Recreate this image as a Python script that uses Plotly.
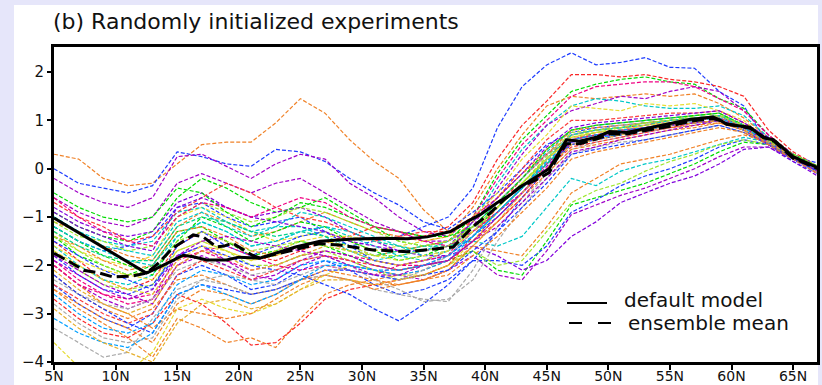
import plotly.graph_objects as go

# ---------------- data ----------------
lat_knots = [5, 7, 9, 11, 13, 15, 17, 19, 21, 23, 25, 27, 29, 31, 33, 35,
             37, 39, 41, 43, 45, 47, 49, 51, 53, 55, 57, 59, 61, 63, 65, 67]

ensemble_members = [
    [0.3,0.2,-0.2,-0.35,-0.3,0.1,0.5,0.55,0.55,0.95,1.45,1.15,0.6,0.15,-0.2,-0.85,-1.3,-1.1,-0.6,-0.1,0.4,0.8,0.9,0.95,1.0,1.05,1.1,1.15,0.9,0.6,0.3,0.05],
    [0.0,-0.3,-0.4,-0.5,-0.35,0.35,0.25,0.1,0.05,0.4,0.35,0.15,-0.2,-0.5,-0.75,-1.1,-1.25,-0.9,-0.5,0.0,0.5,0.75,0.85,0.9,0.95,1.0,1.05,1.1,0.85,0.55,0.25,0.0],
    [-0.2,-0.5,-0.7,-0.8,-0.6,0.25,0.3,0.05,-0.2,0.1,0.3,0.2,-0.3,-0.6,-1.0,-1.3,-1.4,-1.0,-0.7,-0.2,0.3,0.6,0.75,0.8,0.85,0.9,0.95,1.0,0.8,0.5,0.25,-0.05],
    [-1.2,-1.5,-1.7,-1.6,-1.4,-0.8,-0.7,-1.0,-1.2,-1.1,-1.0,-1.3,-1.6,-1.5,-1.4,-1.2,-1.0,-0.4,0.85,1.7,2.15,2.4,2.15,2.2,2.3,2.1,2.08,1.6,1.3,0.5,0.25,0.12],
    [-1.5,-1.9,-2.3,-2.5,-2.3,-1.6,-1.3,-1.5,-1.8,-1.9,-1.7,-1.5,-1.4,-1.2,-1.3,-1.4,-1.2,-0.7,0.2,0.9,1.4,1.95,1.95,1.9,1.95,1.85,1.8,1.7,1.5,0.8,0.35,0.05],
    [-0.9,-1.2,-1.4,-1.5,-1.3,-0.6,-0.2,-0.4,-0.7,-0.9,-0.8,-0.6,-0.9,-1.2,-1.5,-1.6,-1.5,-1.0,-0.1,0.6,1.1,1.6,1.75,1.85,1.9,1.8,1.75,1.45,1.25,0.7,0.3,0.0],
    [-1.1,-1.3,-1.6,-1.8,-1.9,-1.2,-0.9,-1.1,-1.4,-1.3,-1.1,-0.9,-1.1,-1.3,-1.4,-1.5,-1.4,-0.8,0.0,0.7,1.3,1.5,1.45,1.5,1.55,1.5,1.55,1.35,1.05,0.65,0.3,0.05],
    [-1.6,-2.0,-2.3,-2.4,-2.2,-1.4,-1.1,-1.3,-1.6,-1.5,-1.3,-1.2,-1.4,-1.6,-1.8,-1.9,-1.7,-1.1,-0.3,0.4,0.9,1.3,1.45,1.4,1.3,1.25,1.25,1.3,1.1,0.65,0.3,0.05],
    [-0.6,-0.9,-1.1,-1.2,-1.0,-0.3,-0.1,-0.3,-0.5,-0.3,-0.2,-0.5,-0.8,-1.1,-1.3,-1.5,-1.5,-1.2,-0.4,0.3,0.9,1.2,1.35,1.5,1.45,1.6,1.7,1.6,1.2,0.7,0.25,-0.05],
    [-1.9,-2.3,-2.6,-2.8,-2.7,-2.0,-1.7,-1.9,-2.1,-2.0,-1.8,-1.7,-1.8,-1.9,-2.0,-2.0,-1.8,-1.0,-0.2,0.5,1.0,1.5,1.7,1.75,1.8,1.8,1.7,1.45,1.2,0.7,0.3,0.0],
    [-1.3,-1.7,-1.9,-2.0,-1.8,-1.0,-0.8,-1.0,-1.3,-1.5,-1.4,-1.3,-1.5,-1.7,-1.6,-1.5,-1.4,-1.0,-0.5,0.2,0.7,1.3,1.25,1.2,1.35,1.3,1.35,1.2,1.0,0.6,0.25,0.0],
    [-2.0,-2.4,-2.7,-2.9,-2.7,-1.8,-1.6,-1.9,-2.2,-2.3,-2.0,-1.8,-1.9,-2.1,-2.2,-2.3,-2.1,-1.8,-2.2,-2.3,-1.7,-0.95,-0.75,-0.55,-0.4,-0.2,0.0,0.25,0.45,0.45,0.2,-0.1],
    [-1.4,-1.8,-2.0,-2.2,-2.0,-1.3,-1.2,-1.5,-1.8,-1.7,-1.5,-1.6,-1.8,-2.0,-2.1,-2.0,-1.9,-1.7,-2.1,-2.2,-1.5,-0.75,-0.6,-0.45,-0.3,-0.1,0.1,0.35,0.55,0.5,0.2,-0.05],
    [-2.4,-2.8,-3.1,-3.3,-3.0,-2.2,-2.0,-2.2,-2.5,-2.4,-2.1,-1.9,-2.1,-2.4,-2.6,-2.5,-2.3,-1.9,-1.9,-2.0,-1.6,-0.9,-0.65,-0.35,-0.15,0.0,0.2,0.45,0.6,0.5,0.15,-0.1],
    [-1.0,-1.3,-1.5,-1.6,-1.5,-0.9,-0.8,-1.1,-1.3,-1.2,-1.2,-1.4,-1.7,-1.9,-1.8,-1.7,-1.6,-1.5,-1.6,-1.4,-0.8,-0.2,-0.35,-0.05,0.1,0.2,0.35,0.5,0.65,0.55,0.2,0.0],
    [-2.2,-2.6,-2.9,-3.1,-2.9,-2.3,-2.2,-2.4,-2.6,-2.5,-2.3,-2.2,-2.3,-2.4,-2.4,-2.3,-2.1,-1.6,-1.7,-1.8,-1.2,-0.5,-0.2,0.1,0.2,0.3,0.45,0.6,0.7,0.55,0.25,0.0],
    [-1.7,-2.1,-2.4,-2.5,-2.4,-1.7,-1.5,-1.7,-2.0,-2.0,-1.8,-1.7,-1.9,-2.1,-2.3,-2.2,-2.0,-1.7,-2.0,-1.9,-1.3,-0.7,-0.45,-0.3,-0.05,0.15,0.3,0.5,0.6,0.5,0.2,-0.05],
    [-0.8,-1.1,-1.3,-1.4,-1.3,-0.7,-0.5,-0.8,-1.0,-0.9,-0.8,-1.0,-1.3,-1.5,-1.7,-1.8,-1.8,-1.6,-1.8,-2.1,-1.9,-1.4,-1.1,-0.7,-0.5,-0.3,-0.15,0.1,0.4,0.45,0.15,-0.15],
    [-3.3,-3.6,-3.9,-3.8,-3.1,-2.5,-2.3,-2.4,-2.6,-2.5,-2.3,-2.2,-2.3,-2.5,-2.6,-2.7,-2.75,-2.1,-1.2,-0.7,-0.1,0.4,0.55,0.65,0.75,0.85,0.9,1.0,0.85,0.55,0.25,0.0],
    [-3.6,-4.1,-4.3,-4.2,-3.8,-2.9,-2.7,-2.9,-3.0,-2.8,-2.5,-2.2,-2.0,-2.1,-2.2,-2.2,-2.0,-1.5,-0.9,-0.4,0.2,0.6,0.7,0.8,0.9,0.95,1.0,1.05,0.85,0.55,0.25,0.0],
    [-2.5,-2.9,-3.2,-3.5,-3.9,-3.1,-3.3,-3.6,-3.5,-3.7,-3.1,-2.6,-2.4,-2.3,-2.2,-2.1,-1.9,-1.5,-1.0,-0.5,0.1,0.5,0.6,0.7,0.8,0.85,0.9,0.95,0.8,0.5,0.2,-0.05],
    [-2.7,-3.1,-3.4,-3.5,-3.2,-2.6,-2.8,-3.2,-3.65,-3.6,-3.2,-2.7,-2.5,-2.4,-2.3,-2.2,-2.0,-1.4,-0.8,-0.2,0.3,0.7,0.8,0.85,0.9,1.0,1.05,1.1,0.9,0.6,0.3,0.05],
    [-2.0,-2.4,-2.8,-3.0,-3.3,-2.9,-3.0,-3.1,-3.0,-2.7,-2.4,-2.2,-2.3,-2.5,-2.4,-2.3,-2.1,-1.6,-1.1,-0.6,-0.1,0.4,0.5,0.6,0.7,0.8,0.85,0.95,0.8,0.5,0.2,-0.05],
    [-1.8,-2.2,-2.5,-2.6,-2.4,-1.8,-1.6,-1.8,-2.0,-2.1,-2.2,-2.4,-2.6,-2.9,-3.15,-2.8,-2.4,-1.9,-1.3,-0.6,0.0,0.5,0.6,0.7,0.8,0.9,1.0,1.05,0.85,0.55,0.25,0.0],
    [-2.3,-2.6,-2.8,-2.9,-2.7,-2.1,-1.9,-2.0,-2.2,-2.1,-1.9,-1.8,-2.0,-2.3,-2.5,-2.75,-2.7,-2.3,-1.5,-0.8,-0.2,0.3,0.45,0.55,0.6,0.7,0.8,0.9,0.75,0.5,0.2,-0.1],
    [-0.7,-1.0,-1.2,-1.5,-1.4,-0.9,-0.6,-0.3,-0.5,-0.8,-1.0,-1.1,-1.3,-1.5,-1.4,-1.3,-1.3,-1.0,-0.6,0.0,0.6,1.0,1.0,1.05,1.1,1.15,1.15,1.2,0.95,0.6,0.3,0.05],
    [-1.2,-1.5,-1.8,-2.0,-2.2,-1.5,-1.0,-1.2,-1.5,-1.3,-1.1,-1.2,-1.5,-1.7,-1.9,-1.8,-1.6,-1.3,-0.8,-0.3,0.2,0.7,0.8,0.85,0.95,1.0,1.05,1.1,0.9,0.55,0.25,0.0],
    [-1.5,-1.8,-2.1,-2.3,-2.5,-1.6,-1.3,-1.6,-1.8,-1.6,-1.4,-1.3,-1.6,-1.9,-2.0,-1.9,-1.8,-1.4,-1.0,-0.5,0.0,0.55,0.65,0.75,0.85,0.9,0.95,1.0,0.85,0.55,0.25,-0.05],
    [-1.0,-1.3,-1.6,-1.7,-1.8,-1.1,-0.9,-1.2,-1.4,-1.2,-0.9,-1.0,-1.2,-1.4,-1.6,-1.7,-1.5,-1.2,-0.7,-0.2,0.35,0.8,0.9,0.95,1.0,1.05,1.1,1.15,0.9,0.6,0.3,0.05],
    [-2.0,-2.4,-2.6,-2.7,-2.6,-1.9,-1.7,-1.6,-1.8,-2.0,-2.1,-2.0,-2.1,-2.2,-2.0,-1.9,-1.8,-1.3,-0.9,-0.4,0.1,0.6,0.7,0.8,0.85,0.95,1.0,1.05,0.85,0.55,0.25,0.0],
    [-1.6,-1.9,-2.1,-2.2,-2.3,-1.7,-1.5,-1.7,-1.9,-1.7,-1.5,-1.4,-1.4,-1.5,-1.6,-1.7,-1.6,-1.2,-0.8,-0.3,0.15,0.7,0.75,0.8,0.9,0.95,1.0,1.1,0.9,0.6,0.3,0.05],
    [-1.4,-1.6,-1.9,-2.1,-2.0,-1.3,-1.2,-1.4,-1.7,-1.8,-1.6,-1.5,-1.7,-1.8,-1.7,-1.6,-1.5,-1.1,-0.6,-0.1,0.3,0.8,0.85,0.9,0.95,1.0,1.05,1.1,0.85,0.55,0.25,0.0],
    [-1.8,-2.1,-2.4,-2.6,-2.8,-2.0,-1.8,-2.0,-2.3,-2.2,-1.9,-1.7,-1.8,-2.0,-2.1,-2.0,-1.9,-1.5,-1.2,-0.7,-0.2,0.35,0.45,0.6,0.7,0.8,0.9,1.0,0.8,0.5,0.2,-0.05],
    [-1.1,-1.4,-1.5,-1.7,-1.6,-1.0,-0.7,-0.9,-1.1,-1.0,-0.8,-0.9,-1.1,-1.3,-1.5,-1.6,-1.5,-1.2,-0.8,-0.3,0.2,0.65,0.75,0.85,0.95,1.0,1.1,1.15,0.9,0.6,0.3,0.05],
    [-2.6,-3.0,-3.3,-3.4,-3.2,-2.4,-2.1,-2.2,-2.4,-2.3,-2.0,-1.9,-2.0,-2.1,-2.2,-2.1,-1.9,-1.4,-0.9,-0.4,0.1,0.55,0.65,0.7,0.8,0.9,0.95,1.0,0.8,0.55,0.25,0.0],
    [-2.1,-2.5,-2.8,-3.0,-2.8,-2.0,-1.7,-1.8,-2.1,-2.0,-1.8,-1.6,-1.7,-1.9,-2.0,-1.9,-1.7,-1.3,-0.9,-0.4,0.2,0.65,0.7,0.75,0.85,0.95,1.0,1.05,0.85,0.55,0.25,0.0],
    [-1.3,-1.6,-1.8,-1.9,-1.9,-1.2,-1.0,-1.1,-1.3,-1.4,-1.3,-1.4,-1.6,-1.8,-1.7,-1.6,-1.6,-1.3,-0.9,-0.4,0.1,0.6,0.7,0.75,0.85,0.9,1.0,1.05,0.85,0.55,0.25,0.0],
    [-0.9,-1.2,-1.4,-1.6,-1.7,-0.8,-0.6,-0.8,-1.0,-1.1,-1.2,-1.3,-1.5,-1.6,-1.7,-1.7,-1.6,-1.1,-0.6,-0.1,0.45,0.85,0.95,1.0,1.05,1.1,1.15,1.2,0.95,0.65,0.3,0.05],
    [-2.8,-3.2,-3.5,-3.6,-3.5,-2.7,-2.3,-2.2,-2.3,-2.4,-2.2,-2.0,-2.1,-2.2,-2.3,-2.1,-1.8,-1.3,-0.7,-0.2,0.3,0.7,0.8,0.9,0.95,1.0,1.05,1.1,0.9,0.6,0.3,0.05],
    [-2.4,-2.7,-3.0,-3.2,-3.0,-2.2,-1.9,-2.1,-2.3,-2.1,-1.9,-1.8,-1.9,-2.0,-2.1,-2.0,-1.9,-1.5,-1.1,-0.6,0.0,0.45,0.55,0.65,0.75,0.85,0.95,1.0,0.8,0.55,0.25,0.0],
    [-0.5,-0.8,-1.0,-1.1,-1.0,-0.4,-0.5,-0.9,-1.2,-1.0,-0.7,-0.8,-1.0,-1.2,-1.3,-1.4,-1.4,-1.2,-0.7,-0.2,0.4,0.8,0.9,0.95,1.0,1.05,1.1,1.15,0.9,0.6,0.3,0.05],
    [-2.2,-2.6,-2.9,-3.2,-3.4,-2.6,-2.4,-2.5,-2.6,-2.5,-2.3,-2.1,-2.1,-2.2,-2.3,-2.2,-2.1,-1.7,-1.3,-0.8,-0.3,0.3,0.4,0.5,0.6,0.7,0.8,0.9,0.75,0.5,0.2,-0.05],
    [-1.2,-1.5,-1.7,-1.9,-2.0,-1.4,-1.1,-1.3,-1.6,-1.5,-1.3,-1.2,-1.3,-1.5,-1.6,-1.8,-1.7,-1.4,-0.9,-0.4,0.2,0.7,0.8,0.85,0.9,1.0,1.05,1.1,0.9,0.55,0.25,0.0],
    [-0.6,-1.0,-1.3,-1.5,-1.6,-1.0,-0.7,-0.8,-1.0,-0.8,-0.6,-0.7,-1.0,-1.2,-1.3,-1.5,-1.6,-1.3,-0.9,-0.5,0.0,0.6,0.7,0.8,0.85,0.95,1.0,1.05,0.85,0.55,0.25,0.0],
    [-1.7,-2.0,-2.3,-2.5,-2.6,-1.9,-1.6,-1.7,-1.9,-1.8,-1.6,-1.5,-1.6,-1.8,-1.9,-1.8,-1.7,-1.3,-0.8,-0.3,0.2,0.65,0.75,0.8,0.9,0.95,1.0,1.05,0.85,0.55,0.25,0.0],
    [-2.5,-2.8,-3.1,-3.3,-3.6,-2.8,-2.5,-2.6,-2.8,-2.6,-2.3,-2.1,-2.2,-2.3,-2.4,-2.3,-2.2,-1.8,-1.4,-0.9,-0.4,0.2,0.35,0.45,0.55,0.65,0.75,0.85,0.75,0.5,0.2,-0.1],
    [-1.9,-2.2,-2.5,-2.7,-2.5,-1.8,-1.5,-1.4,-1.5,-1.6,-1.7,-1.8,-2.0,-2.2,-2.2,-2.0,-1.9,-1.5,-1.0,-0.5,0.05,0.55,0.65,0.75,0.85,0.9,0.95,1.0,0.85,0.55,0.25,0.0],
    [-1.4,-1.7,-2.0,-2.2,-2.1,-1.5,-1.3,-1.5,-1.7,-1.6,-1.5,-1.6,-1.7,-1.8,-1.8,-1.7,-1.6,-1.2,-0.8,-0.3,0.25,0.75,0.8,0.85,0.95,1.0,1.05,1.1,0.9,0.6,0.3,0.05],
    [-3.1,-3.4,-3.6,-3.7,-3.4,-2.6,-2.4,-2.6,-2.8,-2.6,-2.3,-2.0,-2.0,-2.1,-2.1,-2.0,-1.8,-1.4,-0.9,-0.4,0.15,0.6,0.7,0.8,0.85,0.95,1.0,1.05,0.85,0.55,0.25,0.0],
    [-2.9,-3.3,-3.6,-3.8,-4.0,-3.2,-2.8,-2.7,-2.9,-2.8,-2.5,-2.3,-2.3,-2.4,-2.3,-2.2,-2.0,-1.6,-1.1,-0.5,0.0,0.5,0.6,0.7,0.8,0.9,0.95,1.0,0.8,0.55,0.25,0.0],
]

default_lat = [5, 12.5, 13.6, 15.5, 16.3, 17.4, 19, 20, 21.7, 23.3, 24.6, 26.6, 29,
               31.5, 33.7, 35.3, 37.2, 38.5, 39.6, 41, 42, 43, 44.2, 45.2, 45.8,
               46.6, 47.7, 49.1, 50.1, 51.5, 52.8, 55, 56.6, 58.5, 59.1, 59.6,
               61.5, 62.6, 63.4, 65, 67]
default_val = [-1.02, -2.16, -2.03, -1.79, -1.82, -1.89, -1.89, -1.83, -1.85, -1.72,
               -1.62, -1.5, -1.46, -1.44, -1.45, -1.41, -1.3, -1.1, -0.95, -0.7,
               -0.55, -0.35, -0.15, 0.0, 0.25, 0.6, 0.57, 0.66, 0.77, 0.75, 0.82,
               0.93, 1.02, 1.07, 1.0, 0.92, 0.86, 0.64, 0.6, 0.25, 0.02]

mean_lat = [5, 6.3, 7.4, 8.7, 9.8, 11.4, 12.5, 13.5, 14.6, 16.3, 17.1, 18.2, 18.8,
            19.5, 21.1, 21.7, 23.3, 25, 26.6, 28.2, 30.9, 33.7, 36.3, 37.4, 39,
            40.4, 41.5, 42.8, 44.2, 45.2, 45.8, 46.6, 47.7, 49.1, 50.1, 51.5,
            52.8, 55, 56.6, 58.5, 59.1, 59.6, 61.5, 62.6, 63.4, 65, 67]
mean_val = [-1.75, -1.93, -2.1, -2.16, -2.24, -2.22, -2.16, -1.95, -1.65, -1.37,
            -1.41, -1.62, -1.6, -1.54, -1.79, -1.85, -1.75, -1.64, -1.55, -1.58,
            -1.68, -1.72, -1.65, -1.62, -1.2, -0.92, -0.65, -0.38, -0.22, -0.08,
            0.2, 0.52, 0.52, 0.62, 0.72, 0.72, 0.78, 0.88, 0.98, 1.04, 1.0, 0.93,
            0.84, 0.66, 0.58, 0.22, 0.0]

x_tick_vals = [5, 10, 15, 20, 25, 30, 35, 40, 45, 50, 55, 60, 65]
x_tick_text = ["5N", "10N", "15N", "20N", "25N", "30N", "35N", "40N", "45N",
               "50N", "55N", "60N", "65N"]
y_tick_vals = [-4, -3, -2, -1, 0, 1, 2]

title_text = "(b) Randomly initialized experiments"
legend_labels = ["default model", "ensemble mean"]

# ---------------- styles ----------------
palette = ["rgb(250,60,60)", "rgb(0,220,0)", "rgb(30,60,255)", "rgb(0,200,200)",
           "rgb(240,0,130)", "rgb(230,220,50)", "rgb(240,130,40)", "rgb(160,0,200)",
           "rgb(160,230,50)", "rgb(0,160,255)", "rgb(230,175,45)", "rgb(0,210,140)",
           "rgb(130,0,220)", "rgb(170,170,170)"]
member_colors = ["rgb(240,130,40)", "rgb(30,60,255)", "rgb(160,0,200)", "rgb(30,60,255)",
                 "rgb(250,40,40)", "rgb(0,220,0)", "rgb(240,130,40)", "rgb(0,200,200)",
                 "rgb(160,0,200)", "rgb(240,0,130)", "rgb(230,220,50)", "rgb(160,0,200)",
                 "rgb(0,220,0)", "rgb(30,60,255)", "rgb(0,200,200)", "rgb(240,130,40)",
                 "rgb(160,230,50)", "rgb(130,0,220)", "rgb(170,170,170)", "rgb(230,220,50)",
                 "rgb(240,130,40)", "rgb(250,40,40)", "rgb(240,130,40)", "rgb(30,60,255)",
                 "rgb(170,170,170)"]
member_colors += [palette[i % len(palette)] for i in range(len(ensemble_members) - len(member_colors))]

W, H = 822, 385
ML, MR, MT, MB = 54, 5, 47, 23
PW, PH = W - ML - MR, H - MT - MB


def px(xp):
    return (xp - ML) / PW


def py(yp):
    return (H - MB - yp) / PH


fig = go.Figure()
for vals, col in zip(ensemble_members, member_colors):
    fig.add_trace(go.Scatter(x=lat_knots, y=vals, mode="lines",
                             line=dict(color=col, width=1.2, dash="4px,2px"),
                             hoverinfo="skip", showlegend=False))

fig.add_trace(go.Scatter(x=default_lat, y=default_val, mode="lines",
                         line=dict(color="black", width=3),
                         hoverinfo="skip", showlegend=False))
fig.add_trace(go.Scatter(x=mean_lat, y=mean_val, mode="lines",
                         line=dict(color="black", width=3, dash="12px,5px"),
                         hoverinfo="skip", showlegend=False))

shapes = [
    dict(type="rect", xref="paper", yref="paper", x0=px(14), x1=px(818),
         y0=py(385), y1=py(5), fillcolor="white", line=dict(width=0), layer="below"),
    dict(type="line", xref="paper", yref="paper", x0=px(567), x1=px(607),
         y0=py(303), y1=py(303), line=dict(color="black", width=2)),
    dict(type="line", xref="paper", yref="paper", x0=px(569), x1=px(612),
         y0=py(323), y1=py(323), line=dict(color="black", width=2, dash="13px,16px")),
]

font_family = "DejaVu Sans"
annotations = [
    dict(text=title_text, xref="paper", yref="paper", x=px(51), y=py(21),
         xanchor="left", yanchor="middle", showarrow=False,
         font=dict(family=font_family, size=22, color="#111")),
    dict(text=legend_labels[0], xref="paper", yref="paper", x=px(622), y=py(300),
         xanchor="left", yanchor="middle", showarrow=False,
         font=dict(family=font_family, size=20, color="#111")),
    dict(text=legend_labels[1], xref="paper", yref="paper", x=px(626), y=py(323),
         xanchor="left", yanchor="middle", showarrow=False,
         font=dict(family=font_family, size=20, color="#111")),
]

fig.update_layout(
    width=W, height=H,
    margin=dict(l=ML, r=MR, t=MT, b=MB, pad=0, autoexpand=False),
    paper_bgcolor="#e6e6fa",
    plot_bgcolor="white",
    shapes=shapes,
    annotations=annotations,
    showlegend=False,
    xaxis=dict(range=[5, 66.94], tickvals=x_tick_vals, ticktext=x_tick_text,
               automargin=False, ticklabelstandoff=-6,
               showgrid=False, zeroline=False, showline=True, linecolor="black",
               linewidth=3, mirror=True, ticks="outside", ticklen=5, tickwidth=2,
               tickcolor="black",
               tickfont=dict(family=font_family, size=14, color="#111")),
    yaxis=dict(range=[-4, 2.52], tickvals=y_tick_vals, automargin=False,
               showgrid=False, zeroline=False, showline=True, linecolor="black",
               linewidth=3, mirror=True, ticks="outside", ticklen=4, tickwidth=2,
               tickcolor="black",
               tickfont=dict(family=font_family, size=15, color="#111")),
)

fig.write_html("out.html", config={"displayModeBar": False})
